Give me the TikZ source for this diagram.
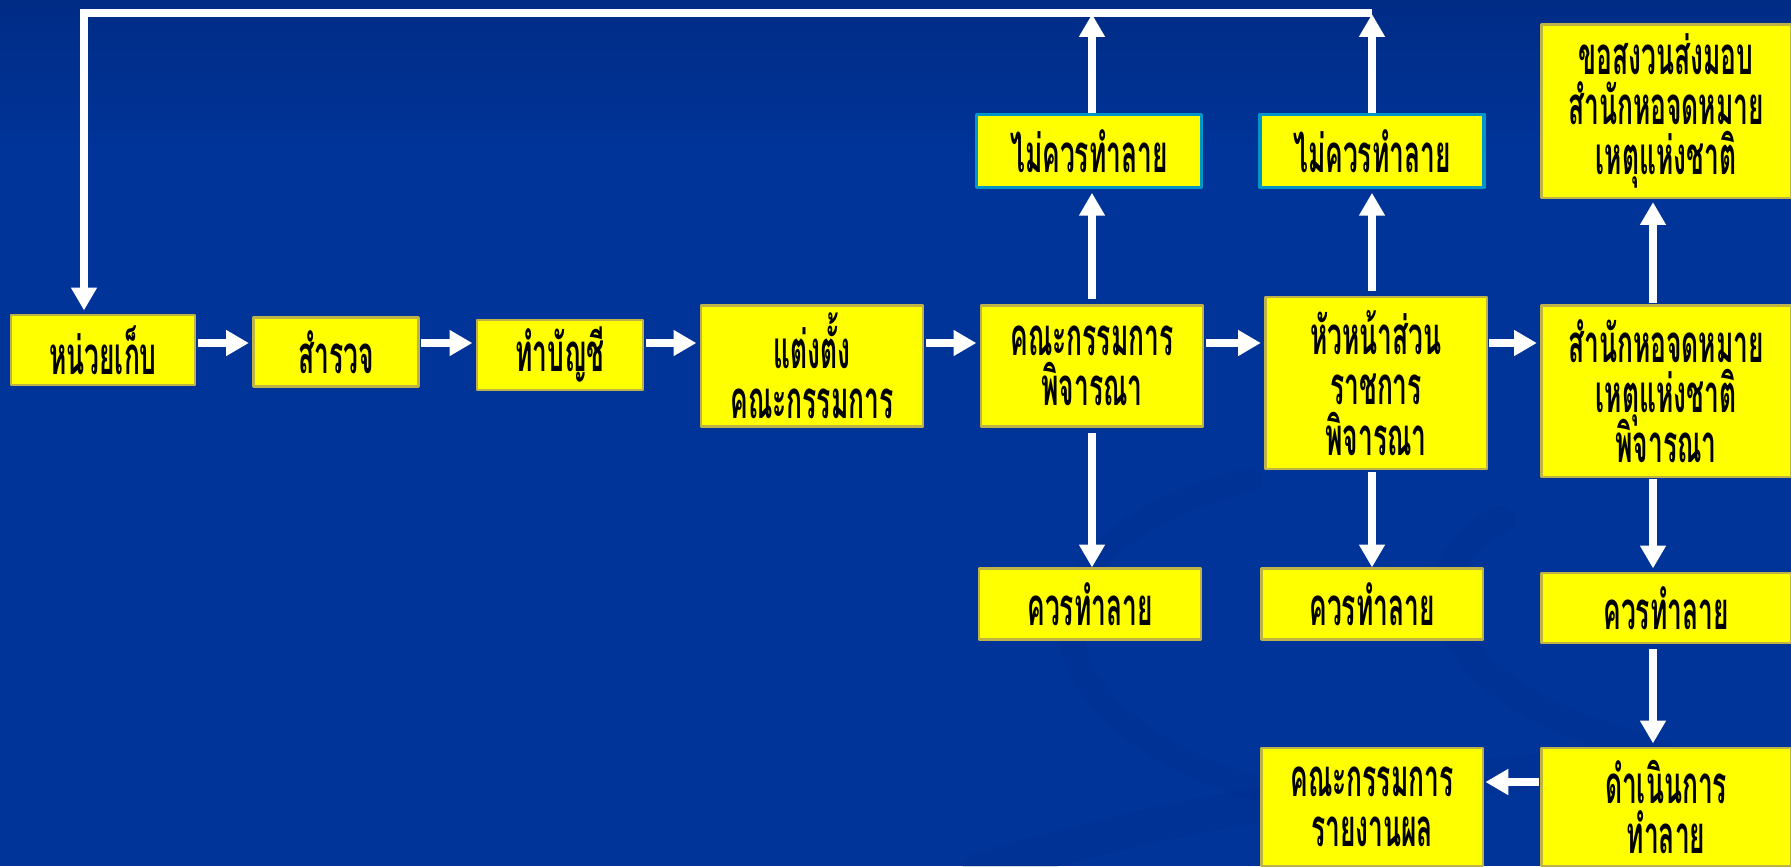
\documentclass[tikz,border=0pt]{standalone}
\usepackage{fontspec}
\usepackage{tikz}
\usetikzlibrary{arrows.meta, calc, positioning}
\newfontfamily\thaifont[Script=Thai, FakeStretch=0.5]{Loma}
\newcommand{\boxfont}{\thaifont\bfseries\fontsize{15}{14.3}\selectfont\setlength{\lineskiplimit}{-50pt}}
\definecolor{slideblue}{RGB}{0, 52, 153}
\definecolor{slidetop}{RGB}{0, 44, 134}
\definecolor{swirlblue}{RGB}{0, 42, 138}
\definecolor{boxyellow}{RGB}{255, 255, 0}
\definecolor{boxline}{RGB}{190, 180, 70}
\definecolor{tealline}{RGB}{0, 150, 200}

\begin{document}
\begin{tikzpicture}[x=0.01cm, y=-0.01cm, line cap=round, line join=round,
    >={Triangle[length=6.5pt,width=7pt]},
    box/.style={draw=boxline, line width=0.6pt, fill=boxyellow, text=black, align=center,
        inner sep=0pt, font=\boxfont},
    keepbox/.style={box, draw=tealline, line width=1pt},
    flow/.style={->, white, line width=2.3pt, line cap=butt, line join=miter}]
    	\fill[slideblue] (0,0) rectangle (1791,866);
    	\shade[top color=slidetop, bottom color=slideblue] (0,0) rectangle (1791,160);
    	\useasboundingbox (0,0) rectangle (1791,866);

    	\draw[swirlblue, line width=7pt, opacity=0.25] (1250,480) .. controls (1000,540) and (1020,720) .. (1260,790) .. controls (1400,830) and (1480,860) .. (1490,900);
    	\draw[swirlblue, line width=8pt, opacity=0.22] (1500,520) .. controls (1400,570) and (1440,690) .. (1620,740) .. controls (1720,770) and (1760,820) .. (1740,880);
    	\draw[swirlblue, line width=10pt, opacity=0.18] (980,870) .. controls (1150,820) and (1300,790) .. (1560,770);

    	\coordinate (topleft) at (84,13);
    	\coordinate (flowrow) at (0,343);

    	\node[box, minimum width=1.84cm, minimum height=0.70cm] (hold) at (103,350) {หน่วยเก็บ};
    	\node[box, minimum width=1.65cm, minimum height=0.69cm] (survey) at (336,352) {สำรวจ};
    	\node[box, minimum width=1.66cm, minimum height=0.70cm] (listing) at (560,355) {ทำบัญชี};
    	\node[box, minimum width=2.22cm, minimum height=1.21cm] (appoint) at (812,366) {แต่งตั้ง\\คณะกรรมการ};
    	\node[box, minimum width=2.22cm, minimum height=1.21cm] (board) at (1092,366) {คณะกรรมการ\\พิจารณา};
    	\node[box, minimum width=2.21cm, minimum height=1.72cm] (head) at (1376,383) {หัวหน้าส่วน\\ราชการ\\พิจารณา};
    	\node[box, minimum width=2.49cm, minimum height=1.71cm] (archive) at (1666,391) {สำนักหอจดหมาย\\เหตุแห่งชาติ\\พิจารณา};
    	\node[box, minimum width=2.49cm, minimum height=1.73cm] (reserve) at (1666,111) {ขอสงวนส่งมอบ\\สำนักหอจดหมาย\\เหตุแห่งชาติ};

    	\node[keepbox, minimum width=2.25cm, minimum height=0.73cm] (keepA) at (1089,151) {ไม่ควรทำลาย};
    	\node[keepbox, minimum width=2.24cm, minimum height=0.73cm] (keepB) at (1372,151) {ไม่ควรทำลาย};

    	\node[box, minimum width=2.22cm, minimum height=0.71cm] (dropA) at (1090,604) {ควรทำลาย};
    	\node[box, minimum width=2.21cm, minimum height=0.71cm] (dropB) at (1372,604) {ควรทำลาย};
    	\node[box, minimum width=2.49cm, minimum height=0.70cm] (dropC) at (1666,608) {ควรทำลาย};
    	\node[box, minimum width=2.49cm, minimum height=1.18cm] (destroy) at (1666,807) {ดำเนินการ\\ทำลาย};
    	\node[box, minimum width=2.21cm, minimum height=1.18cm] (report) at (1372,807) {คณะกรรมการ\\รายงานผล};

    	\draw[flow, shorten <=0.5pt, shorten >=1pt] (hold.east |- flowrow) -- (survey.west |- flowrow);
    	\draw[flow, shorten <=0.5pt, shorten >=1pt] (survey.east |- flowrow) -- (listing.west |- flowrow);
    	\draw[flow, shorten <=0.5pt, shorten >=1pt] (listing.east |- flowrow) -- (appoint.west |- flowrow);
    	\draw[flow, shorten <=0.5pt, shorten >=1pt] (appoint.east |- flowrow) -- (board.west |- flowrow);
    	\draw[flow, shorten <=0.5pt, shorten >=1pt] (board.east |- flowrow) -- (head.west |- flowrow);
    	\draw[flow, shorten <=0.5pt, shorten >=1pt] (head.east |- flowrow) -- (archive.west |- flowrow);

    	\draw[flow, shorten <=1.5pt, shorten >=1pt] (board.north) -- (board.north |- keepA.south);
    	\draw[flow, shorten <=1.5pt] (board.south) -- (board.south |- dropA.north);
    	\draw[flow, shorten <=1.5pt, shorten >=1pt] (keepB.south |- head.north) -- (keepB.south);
    	\draw[flow, shorten <=0.5pt] (dropB.north |- head.south) -- (dropB.north);
    	\draw[flow, shorten <=0.5pt, shorten >=1pt] ([xshift=-0.13cm]archive.north) -- ([xshift=-0.13cm]reserve.south);
    	\draw[flow, shorten <=0.5pt, shorten >=1pt] ([xshift=-0.13cm]archive.south) -- ([xshift=-0.13cm]dropC.north);
    	\draw[flow, shorten <=1.5pt, shorten >=1pt] ([xshift=-0.13cm]dropC.south) -- ([xshift=-0.13cm]destroy.north);
    	\draw[flow, shorten <=0.5pt, shorten >=0.5pt] ([yshift=0.25cm]destroy.west) -- ([yshift=0.25cm]report.east);

    	\draw[flow, shorten >=0.3pt] (board.north |- keepA.north) -- (board.north |- topleft);
    	\draw[flow, shorten >=0.3pt] (keepB.north) -- (keepB.north |- topleft);
    	\draw[flow, line width=2pt, shorten >=1pt] (keepB.north |- topleft) -- (topleft) -- (topleft |- hold.north);
\end{tikzpicture}
\end{document}
